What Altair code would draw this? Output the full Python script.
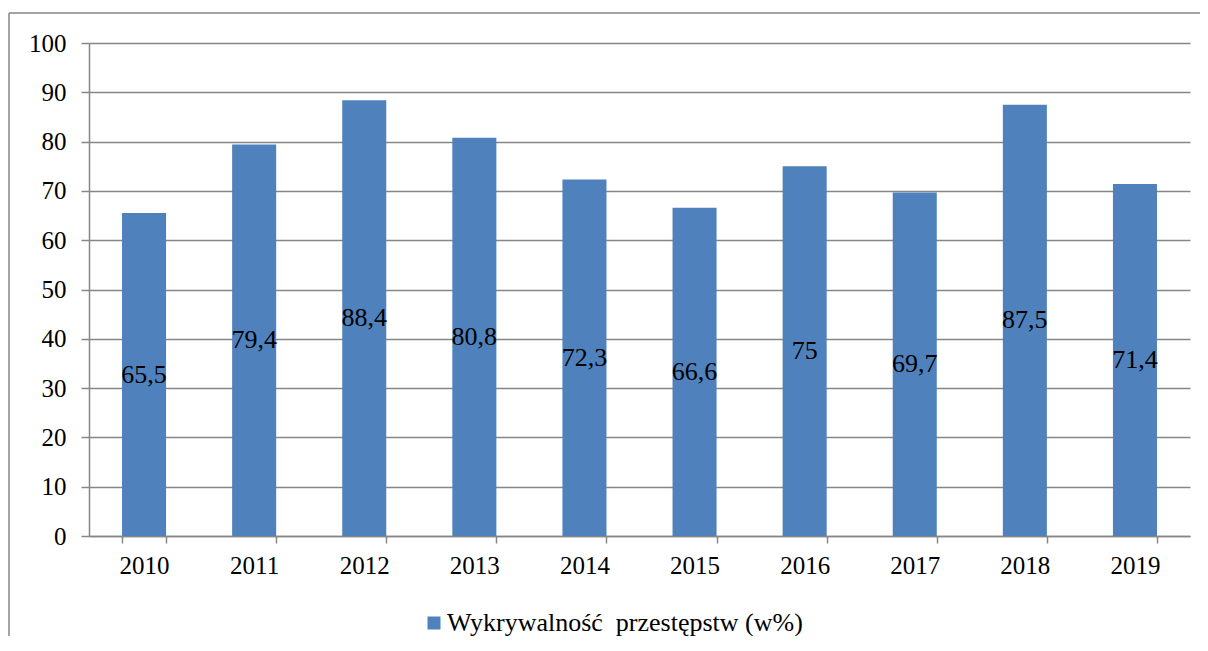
import altair as alt
import pandas as pd

years = ["2010", "2011", "2012", "2013", "2014", "2015", "2016", "2017", "2018", "2019"]
values = [65.5, 79.4, 88.4, 80.8, 72.3, 66.6, 75.0, 69.7, 87.5, 71.4]
series_name = "Wykrywalność\u00a0 przestępstw (w%)"
y_ticks = [0, 10, 20, 30, 40, 50, 60, 70, 80, 90, 100]

def fmt(v):
    s = ("%g" % v).replace(".", ",")
    return s

df = pd.DataFrame({
    "rok": years,
    "wartosc": values,
    "etykieta": [fmt(v) for v in values],
    "seria": [series_name] * len(years),
})

FONT = "Liberation Serif"
FS = 25
FS2 = 26
GRAY = "#868686"
W, H = 1101, 493

base = alt.Chart(df)

x_enc = alt.X("rok:N", sort=years, title=None,
              scale=alt.Scale(paddingInner=0.6, paddingOuter=0.3),
              axis=alt.Axis(labelAngle=0, labelFont=FONT, labelFontSize=FS, labelColor="black",
                            labelPadding=10, tickBand="extent", tickSize=7, tickColor=GRAY,
                            tickWidth=1.5, domainColor=GRAY, domainWidth=1.5, grid=False))

bars = base.mark_bar(color="#4F81BD").encode(
    x=x_enc,
    y=alt.Y("wartosc:Q", title=None,
            scale=alt.Scale(domain=[0, 100], nice=False),
            axis=alt.Axis(values=y_ticks, labelFont=FONT, labelFontSize=FS, labelColor="black",
                          labelPadding=15, tickSize=8, tickColor=GRAY, tickWidth=1.5,
                          domainColor=GRAY, domainWidth=1.5, gridColor=GRAY, gridWidth=1.5)),
    color=alt.Color("seria:N", title=None,
                    scale=alt.Scale(range=["#4F81BD"]),
                    legend=alt.Legend(orient="none", legendX=332, legendY=567, padding=0,
                                      symbolType="square", symbolSize=169,
                                      symbolStrokeWidth=0, labelFont=FONT, labelFontSize=FS2,
                                      labelOffset=0, labelColor="black", labelLimit=600,
                                      symbolOffset=0)),
)

labels = base.mark_text(font=FONT, fontSize=FS2, color="black", baseline="middle").encode(
    x=alt.X("rok:N", sort=years),
    y=alt.Y("mid:Q"),
    text="etykieta:N",
).transform_calculate(mid="datum.wartosc / 2")

frame_df = pd.DataFrame({"a": [0]})
frame_top = alt.Chart(frame_df).mark_rule(stroke=GRAY, strokeWidth=1.5, clip=False).encode(
    x=alt.value(-80), x2=alt.value(1200), y=alt.value(-30), y2=alt.value(-30),
)
frame_left = alt.Chart(frame_df).mark_rule(stroke=GRAY, strokeWidth=1.5, clip=False).encode(
    x=alt.value(-80), x2=alt.value(-80), y=alt.value(-30), y2=alt.value(700),
)

chart = alt.layer(frame_top, frame_left, bars, labels).properties(
    width=W, height=H,
    autosize=alt.AutoSizeParams(type="none"),
    padding={"left": 81, "top": 35, "right": 10, "bottom": 100},
).configure_view(stroke=None)

chart.save("out.html", embed_options={"renderer": "svg", "actions": False})
